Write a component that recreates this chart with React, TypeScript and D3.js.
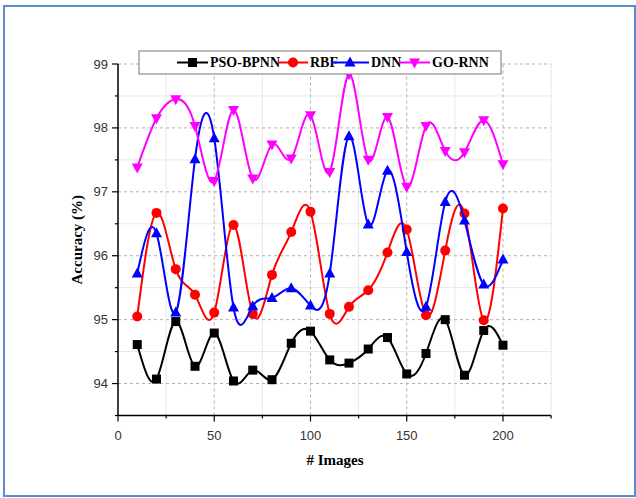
import React from "react";
import * as d3 from "d3";

const xValues = [10, 20, 30, 40, 50, 60, 70, 80, 90, 100, 110, 120, 130, 140, 150, 160, 170, 180, 190, 200];
const psoBpnn = [94.61, 94.07, 94.97, 94.27, 94.79, 94.04, 94.21, 94.06, 94.63, 94.82, 94.37, 94.32, 94.54, 94.72, 94.15, 94.47, 95.0, 94.13, 94.83, 94.6];
const rbf = [95.05, 96.67, 95.79, 95.39, 95.11, 96.48, 95.09, 95.7, 96.37, 96.69, 95.09, 95.2, 95.46, 96.05, 96.41, 95.07, 96.08, 96.66, 94.99, 96.74];
const dnn = [95.72, 96.35, 95.11, 97.51, 97.84, 95.19, 95.21, 95.34, 95.49, 95.22, 95.72, 97.87, 96.49, 97.33, 96.06, 95.2, 96.84, 96.55, 95.55, 95.94];
const goRnn = [97.38, 98.15, 98.45, 98.03, 97.17, 98.28, 97.21, 97.74, 97.52, 98.2, 97.31, 98.84, 97.5, 98.17, 97.08, 98.03, 97.64, 97.62, 98.12, 97.43];

const seriesNames = ["PSO-BPNN", "RBF", "DNN", "GO-RNN"];
const seriesColors = ["#000000", "#ff0000", "#0000ff", "#ff00ff"];
const seriesMarkers = ["square", "circle", "triangleUp", "triangleDown"];
const seriesData = [psoBpnn, rbf, dnn, goRnn];

const xMajorTicks = [0, 50, 100, 150, 200];
const xMinorTicks = [25, 75, 125, 175, 225];
const yMajorTicks = [94, 95, 96, 97, 98, 99];
const yMinorTicks = [93.5, 94.5, 95.5, 96.5, 97.5, 98.5];

const serif = "'Liberation Serif', 'Times New Roman', serif";
const sans = "'Liberation Sans', Arial, sans-serif";

function Marker({ type, x, y, color }: { type: string; x: number; y: number; color: string }) {
  if (type === "square") return <rect x={x - 4.5} y={y - 4.5} width={9} height={9} fill={color} />;
  if (type === "circle") return <circle cx={x} cy={y} r={5} fill={color} />;
  if (type === "triangleUp")
    return <path d={`M${x},${y - 6}L${x + 5.5},${y + 4}L${x - 5.5},${y + 4}Z`} fill={color} />;
  return <path d={`M${x},${y + 6}L${x + 5.5},${y - 4}L${x - 5.5},${y - 4}Z`} fill={color} />;
}

export default function App() {
  const x = d3.scaleLinear().domain([0, 225]).range([118, 551.1]);
  const y = d3.scaleLinear().domain([93.5, 99]).range([415.5, 64]);
  const line = d3
    .line<number>()
    .x((_, i) => x(xValues[i]))
    .y((d) => y(d))
    .curve(d3.curveNatural);

  const x0 = x(0);
  const x1 = x(225);
  const y0 = y(93.5);
  const y1 = y(99);

  const legendItems = [
    { lx: 177, lw: 31, tx: 210 },
    { lx: 278, lw: 30, tx: 310 },
    { lx: 331, lw: 38, tx: 371 },
    { lx: 399, lw: 31, tx: 432 },
  ];

  return (
    <svg width={636} height={498} style={{ position: "absolute", left: 0, top: 0 }}>
      <rect x={0} y={0} width={636} height={498} fill="#ffffff" />
      <rect x={4} y={6} width={631} height={490} fill="none" stroke="#5b8bd0" strokeWidth={2} />

      {/* minor grid */}
      {xMinorTicks.map((t) => (
        <line key={"xm" + t} x1={x(t)} x2={x(t)} y1={y0} y2={y1} stroke="#e8e8e8" strokeWidth={1} />
      ))}
      {yMinorTicks.map((t) => (
        <line key={"ym" + t} x1={x0} x2={x1} y1={y(t)} y2={y(t)} stroke="#e8e8e8" strokeWidth={1} />
      ))}
      {/* major grid */}
      {xMajorTicks.filter((t) => t > 0).map((t) => (
        <line key={"xg" + t} x1={x(t)} x2={x(t)} y1={y0} y2={y1} stroke="#b0b0b0" strokeWidth={1} strokeDasharray="3,3" />
      ))}
      {yMajorTicks.map((t) => (
        <line key={"yg" + t} x1={x0} x2={x1} y1={y(t)} y2={y(t)} stroke="#b0b0b0" strokeWidth={1} strokeDasharray="3,3" />
      ))}

      {/* axes */}
      <line x1={x0} x2={x0} y1={y0} y2={y1} stroke="#000" strokeWidth={1.5} />
      <line x1={x0} x2={x1} y1={y0} y2={y0} stroke="#000" strokeWidth={1.5} />
      {yMajorTicks.map((t) => (
        <g key={"yt" + t}>
          <line x1={x0 - 6} x2={x0} y1={y(t)} y2={y(t)} stroke="#000" strokeWidth={1.2} />
          <text x={x0 - 10} y={y(t)} dy="0.35em" textAnchor="end" fontFamily={sans} fontSize={13} fill="#333">
            {t}
          </text>
        </g>
      ))}
      {yMinorTicks.map((t) => (
        <line key={"ymt" + t} x1={x0 - 3} x2={x0} y1={y(t)} y2={y(t)} stroke="#000" strokeWidth={1.2} />
      ))}
      {xMajorTicks.map((t) => (
        <g key={"xt" + t}>
          <line x1={x(t)} x2={x(t)} y1={y0} y2={y0 + 6} stroke="#000" strokeWidth={1.2} />
          <text x={x(t)} y={y0 + 20} dy="0.35em" textAnchor="middle" fontFamily={sans} fontSize={13} fill="#333">
            {t}
          </text>
        </g>
      ))}
      {xMinorTicks.map((t) => (
        <line key={"xmt" + t} x1={x(t)} x2={x(t)} y1={y0} y2={y0 + 3} stroke="#000" strokeWidth={1.2} />
      ))}

      {/* axis titles */}
      <text x={335} y={460} dy="0.35em" textAnchor="middle" fontFamily={serif} fontWeight="bold" fontSize={15} fill="#000">
        # Images
      </text>
      <text
        transform={`translate(77,${(y0 + y1) / 2}) rotate(-90)`}
        dy="0.35em"
        textAnchor="middle"
        fontFamily={serif}
        fontWeight="bold"
        fontSize={15}
        fill="#000"
      >
        Accuracy (%)
      </text>

      {/* series */}
      {seriesData.map((vals, si) => (
        <g key={seriesNames[si]}>
          <path d={line(vals) || ""} fill="none" stroke={seriesColors[si]} strokeWidth={2} />
          {vals.map((v, i) => (
            <Marker key={i} type={seriesMarkers[si]} x={x(xValues[i])} y={y(v)} color={seriesColors[si]} />
          ))}
        </g>
      ))}

      {/* legend */}
      <rect x={139} y={51} width={362} height={23} fill="#ffffff" stroke="#777" strokeWidth={1} />
      {seriesNames.map((name, si) => {
        const it = legendItems[si];
        const cy = 62.5;
        return (
          <g key={"lg" + name}>
            <line x1={it.lx} x2={it.lx + it.lw} y1={cy} y2={cy} stroke={seriesColors[si]} strokeWidth={2} />
            <Marker type={seriesMarkers[si]} x={it.lx + it.lw / 2} y={cy} color={seriesColors[si]} />
            <text x={it.tx} y={cy} dy="0.35em" fontFamily={serif} fontWeight="bold" fontSize={14} fill="#000">
              {name}
            </text>
          </g>
        );
      })}
    </svg>
  );
}
